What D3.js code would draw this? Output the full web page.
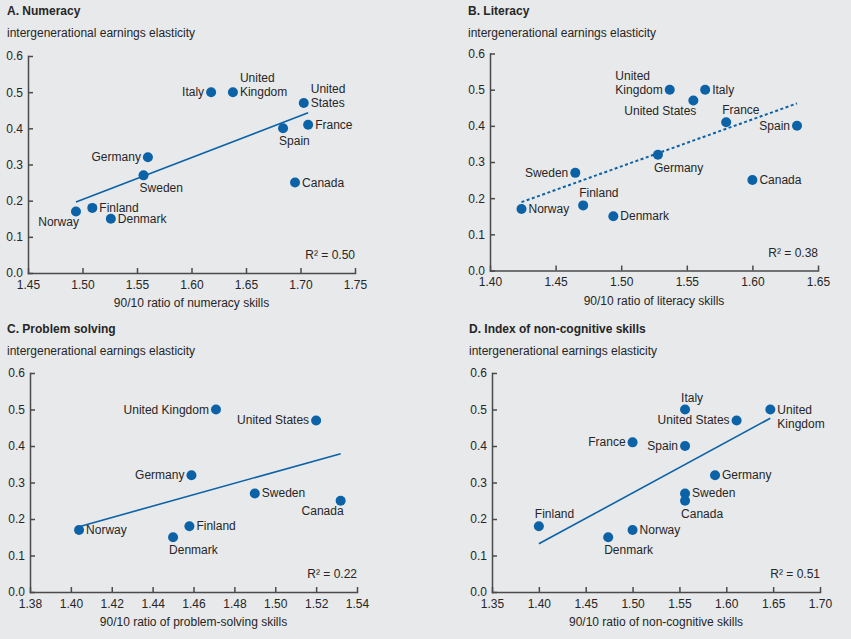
<!DOCTYPE html>
<html lang="en">
<head>
    <meta charset="UTF-8">
    <title>Intergenerational earnings elasticity and skills dispersion</title>
    <script src="https://d3js.org/d3.v7.min.js"></script>
    <style>
        body {
            margin: 0;
            background-color: #e8e9eb;
            font-family: "Liberation Sans", Arial, sans-serif;
        }
        svg text {
            fill: #262626;
        }
        .axis path, .axis line {
            stroke: #4a4a4a;
            stroke-width: 1.5;
        }
        .axis text {
            font-size: 12px;
            font-family: "Liberation Sans", Arial, sans-serif;
        }
    </style>
</head>
<body>
    <svg id="chart"></svg>

    <script>
        // countries in the same order as every series below
        const countries = ["Italy", "United Kingdom", "United States", "France", "Spain",
            "Germany", "Sweden", "Canada", "Finland", "Norway", "Denmark"];

        const elasticity = [0.50, 0.50, 0.47, 0.41, 0.40, 0.32, 0.27, 0.25, 0.18, 0.17, 0.15];

        const numeracy = [1.618, 1.638, 1.703, 1.707, 1.684, 1.560, 1.556, 1.695, 1.509, 1.494, 1.526];
        const literacy = [1.564, 1.537, 1.555, 1.580, 1.634, 1.528, 1.465, 1.600, 1.471, 1.424, 1.494];
        const problemSolving = [null, 1.471, 1.520, null, null, 1.459, 1.490, 1.532, 1.458, 1.404, 1.450];
        const nonCognitive = [1.556, 1.647, 1.611, 1.500, 1.556, 1.588, 1.556, 1.556, 1.400, 1.500, 1.474];

        // fitted lines, [x, y] at both ends
        const trendNumeracy = [[1.494, 0.196], [1.707, 0.443]];
        const trendLiteracy = [[1.424, 0.189], [1.634, 0.462]];
        const trendProblem = [[1.404, 0.179], [1.532, 0.379]];
        const trendNonCog = [[1.400, 0.132], [1.647, 0.476]];

        const rSquared = ["0.50", "0.38", "0.22", "0.51"];

        const yTicks = [0, 0.1, 0.2, 0.3, 0.4, 0.5, 0.6];
        const xTicksNumeracy = [1.45, 1.50, 1.55, 1.60, 1.65, 1.70, 1.75];
        const xTicksLiteracy = [1.40, 1.45, 1.50, 1.55, 1.60, 1.65];
        const xTicksProblem = [1.38, 1.40, 1.42, 1.44, 1.46, 1.48, 1.50, 1.52, 1.54];
        const xTicksNonCog = [1.35, 1.40, 1.45, 1.50, 1.55, 1.60, 1.65, 1.70];

        // where each country's label sits relative to its dot
        const placeA = ["l", "r2u", "r2u", "r", "b", "l", "b", "r", "r", "bl", "r"];
        const placeB = ["r", "l2u", "bl", "t", "l", "b", "l", "r", "t", "r", "r"];
        const placeC = [null, "l", "l", null, null, "l", "r", "bl", "r", "r", "b"];
        const placeD = ["t", "r2d", "l", "l", "l", "r", "r", "b", "t", "r", "b"];

        const panels = [
            { title: "A. Numeracy", xLabel: "90/10 ratio of numeracy skills", xs: numeracy,
              xTicks: xTicksNumeracy, trend: trendNumeracy, r2: rSquared[0], place: placeA, dashed: false,
              left: 28, right: 355, top: 56, bottom: 273, titleX: 7, titleY: 15 },
            { title: "B. Literacy", xLabel: "90/10 ratio of literacy skills", xs: literacy,
              xTicks: xTicksLiteracy, trend: trendLiteracy, r2: rSquared[1], place: placeB, dashed: true,
              left: 490, right: 818, top: 53.5, bottom: 270.5, titleX: 468, titleY: 15 },
            { title: "C. Problem solving", xLabel: "90/10 ratio of problem-solving skills", xs: problemSolving,
              xTicks: xTicksProblem, trend: trendProblem, r2: rSquared[2], place: placeC, dashed: false,
              left: 30, right: 357, top: 373, bottom: 592, titleX: 7, titleY: 333 },
            { title: "D. Index of non-cognitive skills", xLabel: "90/10 ratio of non-cognitive skills", xs: nonCognitive,
              xTicks: xTicksNonCog, trend: trendNonCog, r2: rSquared[3], place: placeD, dashed: false,
              left: 492, right: 820, top: 373, bottom: 592, titleX: 469, titleY: 333 }
        ];

        const width = 851, height = 639;
        const blue = "#0b62a6";

        const svg = d3.select("#chart")
            .attr("width", width)
            .attr("height", height);

        function drawLabel(g, name, cx, cy, code) {
            const t = g.append("text").attr("font-size", "12px");
            if (code === "r") {
                t.attr("x", cx + 7).attr("y", cy + 4).text(name);
            } else if (code === "l") {
                t.attr("x", cx - 7).attr("y", cy + 4).attr("text-anchor", "end").text(name);
            } else if (code === "b") {
                t.attr("x", cx - 4).attr("y", cy + 17).text(name);
            } else if (code === "bl") {
                t.attr("x", cx + 3).attr("y", cy + 14.5).attr("text-anchor", "end").text(name);
            } else if (code === "t") {
                t.attr("x", cx - 4).attr("y", cy - 8).text(name);
            } else {
                // two-line labels: "United" / "Kingdom"
                const lines = name.split(" ");
                const y0 = code === "r2d" ? cy + 4 : cy - 10;
                lines.forEach((line, i) => {
                    t.append("tspan").attr("y", y0 + i * 14).text(line);
                });
                let x = cx + 7;
                if (code === "l2u") {
                    const w = d3.max(t.selectAll("tspan").nodes(), n => n.getComputedTextLength());
                    x = cx - 7 - w;
                }
                t.selectAll("tspan").attr("x", x);
            }
        }

        panels.forEach(p => {
            const g = svg.append("g");

            const x = d3.scaleLinear()
                .domain(d3.extent(p.xTicks))
                .range([p.left, p.right]);

            const y = d3.scaleLinear()
                .domain([0, 0.6])
                .range([p.bottom, p.top]);

            g.append("text")
                .attr("x", p.titleX)
                .attr("y", p.titleY)
                .attr("font-size", "12px")
                .attr("font-weight", "bold")
                .text(p.title);

            g.append("text")
                .attr("x", p.titleX)
                .attr("y", p.titleY + 22)
                .attr("font-size", "12px")
                .text("intergenerational earnings elasticity");

            g.append("g")
                .attr("class", "axis")
                .attr("transform", `translate(${p.left},0)`)
                .call(d3.axisLeft(y).tickValues(yTicks).tickFormat(d3.format(".1f"))
                    .tickSizeInner(-5).tickSizeOuter(0).tickPadding(5));

            g.append("g")
                .attr("class", "axis")
                .attr("transform", `translate(0,${p.bottom})`)
                .call(d3.axisBottom(x).tickValues(p.xTicks).tickFormat(d3.format(".2f"))
                    .tickSizeInner(-5).tickSizeOuter(0).tickPadding(7));

            g.selectAll(".axis .domain").attr("stroke-linecap", "square");

            g.append("text")
                .attr("x", (p.left + p.right) / 2)
                .attr("y", p.bottom + 34)
                .attr("text-anchor", "middle")
                .attr("font-size", "12px")
                .text(p.xLabel);

            g.append("text")
                .attr("x", p.right)
                .attr("y", p.bottom - 14)
                .attr("text-anchor", "end")
                .attr("font-size", "12px")
                .text(`R\u00b2 = ${p.r2}`);

            g.append("path")
                .datum(p.trend)
                .attr("fill", "none")
                .attr("stroke", blue)
                .attr("stroke-width", p.dashed ? 2 : 1.6)
                .attr("stroke-dasharray", p.dashed ? "3,2.5" : null)
                .attr("d", d3.line().x(d => x(d[0])).y(d => y(d[1])));

            const pts = countries.map((c, i) => ({ name: c, xv: p.xs[i], yv: elasticity[i], place: p.place[i] }))
                .filter(d => d.xv !== null);

            g.selectAll(".dot")
                .data(pts)
                .enter().append("circle")
                .attr("class", "dot")
                .attr("cx", d => x(d.xv))
                .attr("cy", d => y(d.yv))
                .attr("r", 5)
                .attr("fill", blue);

            pts.forEach(d => drawLabel(g, d.name, x(d.xv), y(d.yv), d.place));
        });
    </script>
</body>
</html>
